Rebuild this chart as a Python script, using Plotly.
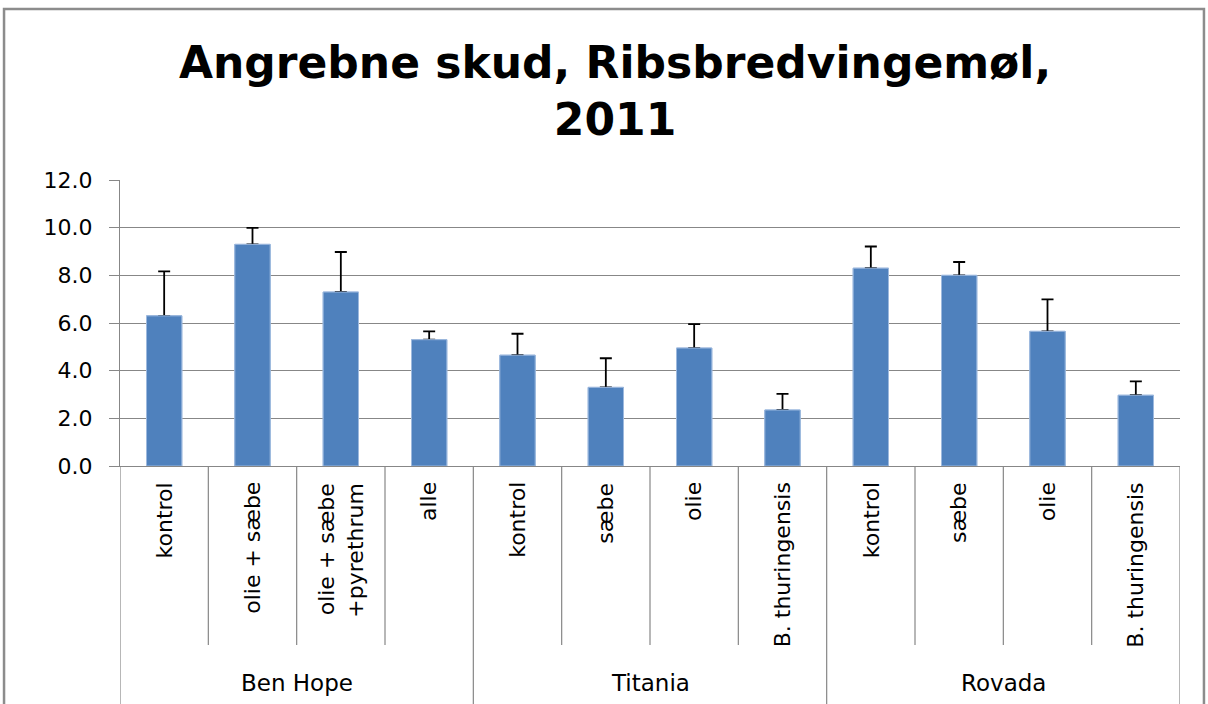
import plotly.graph_objects as go

groups = ["Ben Hope"] * 4 + ["Titania"] * 4 + ["Rovada"] * 4
treatments = ["kontrol", "olie + sæbe", "olie + sæbe<br>+pyrethrum", "alle",
              "kontrol", "sæbe", "olie", "B. thuringensis",
              "kontrol", "sæbe", "olie", "B. thuringensis"]
values = [6.3, 9.3, 7.3, 5.3, 4.65, 3.3, 4.95, 2.35, 8.3, 8.0, 5.65, 2.97]
errors = [1.87, 0.69, 1.68, 0.35, 0.9, 1.22, 1.0, 0.68, 0.91, 0.56, 1.34, 0.58]
y_ticks = [0, 2, 4, 6, 8, 10, 12]
title_text = "Angrebne skud, Ribsbredvingemøl,<br>2011"

keys = [f"{g}|{t}" for g, t in zip(groups, treatments)]
n = len(keys)

bar_marker = dict(color="#4F81BD", line=dict(color="#9DB9DE", width=1))
fig = go.Figure()
# bars carrying the (upward only) error bars
fig.add_trace(go.Bar(
    x=keys, y=values, marker=bar_marker, width=0.4,
    error_y=dict(type="data", symmetric=False, array=errors,
                 arrayminus=[0] * n, color="black", thickness=1.8, width=6),
))
# same bars drawn again on top to hide the lower cap at the bar top
fig.add_trace(go.Bar(x=keys, y=values, marker=bar_marker, width=0.4, hoverinfo="skip"))

gridc = "#878787"
shapes = []
annotations = []
LABEL_BOTTOM = -0.626   # inner divider end (paper)
GROUP_BOTTOM = -0.84

# dividers between categories
for i in range(n + 1):
    is_group_edge = (i == 0 or i == n or groups[i] != groups[i - 1])
    shapes.append(dict(type="line", xref="x", yref="paper",
                       x0=i - 0.5, x1=i - 0.5, y0=0,
                       y1=GROUP_BOTTOM if is_group_edge else LABEL_BOTTOM,
                       line=dict(color=gridc, width=1.2)))

# inner labels
for i, t in enumerate(treatments):
    annotations.append(dict(x=keys[i], xref="x", y=-0.05, yref="paper",
                            text=t, textangle=-90, showarrow=False,
                            xanchor="center", yanchor="top", align="right",
                            font=dict(family="DejaVu Sans", size=22, color="black")))

# group labels
seen = []
for g in groups:
    if g not in seen:
        seen.append(g)
for g in seen:
    idx = [i for i, gg in enumerate(groups) if gg == g]
    annotations.append(dict(x=sum(idx) / len(idx), xref="x", y=-0.757, yref="paper",
                            text=g, showarrow=False, xanchor="center", yanchor="middle",
                            font=dict(family="DejaVu Sans", size=23, color="black")))

# outer chart border
shapes.append(dict(type="rect", xref="paper", yref="paper",
                   x0=-0.1094, x1=1.0226, y0=-0.9, y1=1.598,
                   line=dict(color="#8C8C8C", width=2.5)))

fig.update_layout(
    width=1208, height=704,
    margin=dict(l=120, r=28, t=180, b=238),
    paper_bgcolor="white", plot_bgcolor="white",
    showlegend=False, barmode="overlay",
    title=dict(text=title_text, x=0.467, xref="paper", xanchor="center",
               y=0.889, yanchor="middle",
               font=dict(family="DejaVu Sans", size=44, color="black", weight="bold")),
    xaxis=dict(type="category", range=[-0.5, n - 0.5], showticklabels=False,
               showgrid=False, ticks="", showline=True, linecolor=gridc, linewidth=1.2,
               zeroline=False),
    yaxis=dict(range=[0, 12], tickvals=y_ticks, tickformat=".1f",
               showgrid=True, gridcolor=gridc, gridwidth=1.2,
               showline=True, linecolor=gridc, linewidth=1.2,
               ticks="outside", ticklen=10, tickcolor=gridc, tickwidth=1.2,
               ticklabelstandoff=12,
               zeroline=False,
               tickfont=dict(family="DejaVu Sans", size=22, color="black")),
    shapes=shapes, annotations=annotations,
)

fig.write_html("out.html", config={"displayModeBar": False},
               post_script="document.body.style.margin='0';document.body.style.overflow='hidden';")
